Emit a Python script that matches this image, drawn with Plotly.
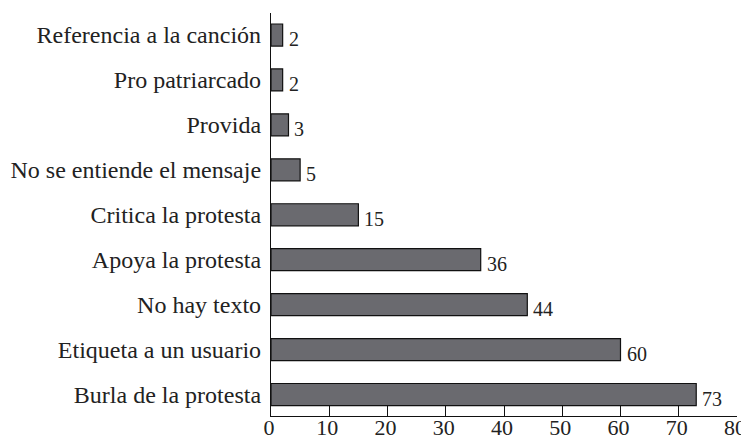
import plotly.graph_objects as go

categories = ["Burla de la protesta", "Etiqueta a un usuario", "No hay texto",
              "Apoya la protesta", "Critica la protesta", "No se entiende el mensaje",
              "Provida", "Pro patriarcado", "Referencia a la canción"]
values = [73, 60, 44, 36, 15, 5, 3, 2, 2]
x_ticks = [0, 10, 20, 30, 40, 50, 60, 70, 80]

FONT = "Liberation Serif"

fig = go.Figure()
fig.add_trace(go.Bar(
    x=values, y=categories, orientation="h",
    marker=dict(color="#6a6a6f", line=dict(color="#111111", width=1.2)),
    showlegend=False, hoverinfo="skip",
))

for v, c in zip(values, categories):
    fig.add_annotation(x=v, y=c, text=str(v), showarrow=False,
                       xanchor="left", yanchor="middle", xshift=4, yshift=-4,
                       font=dict(family=FONT, size=20, color="#222222"))

# page body has an 8px default margin, so the figure is drawn 8px smaller
fig.update_layout(
    width=741, height=433,
    margin=dict(l=263, r=12, t=5, b=25, autoexpand=False),
    paper_bgcolor="white", plot_bgcolor="white",
    bargap=0.51,
    font=dict(family=FONT, color="#222222"),
)
fig.update_xaxes(
    range=[0, 80], tickvals=x_ticks, ticktext=[str(t) for t in x_ticks],
    showline=True, linecolor="#111111", linewidth=1.2,
    ticks="inside", ticklen=10, tickcolor="#111111", tickwidth=1.2,
    showgrid=False, zeroline=False, tickfont=dict(family=FONT, size=22),
    automargin=False, ticklabelstandoff=-9, ticklabelshift=-2,
)
fig.update_yaxes(
    categoryorder="array", categoryarray=categories,
    range=[-0.478, 8.49],
    showline=True, linecolor="#111111", linewidth=1.2,
    ticks="", showgrid=False, zeroline=False,
    tickfont=dict(family=FONT, size=24), ticklabelstandoff=4,
    automargin=False,
)

fig.write_html("out.html")
